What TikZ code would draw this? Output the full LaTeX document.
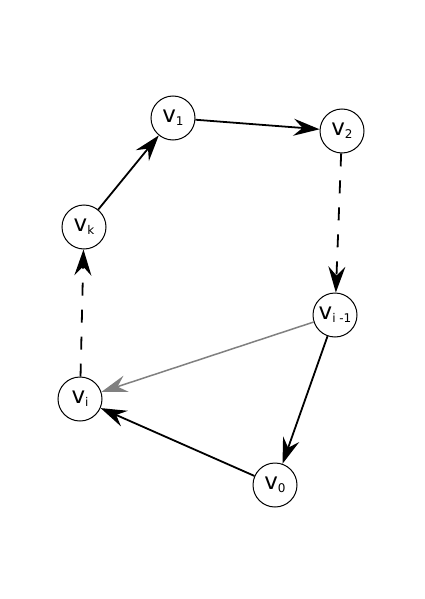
\documentclass[tikz,border=0pt]{standalone}
\usepackage{fontspec}
\setmainfont{DejaVu Sans}
\usetikzlibrary{arrows.meta}
\newcommand{\vlab}[1]{{\fontsize{23}{23}\selectfont v}\raisebox{-3pt}{\fontsize{12}{12}\selectfont #1}}
\begin{document}
\begin{tikzpicture}[x=1pt,y=-1pt,
  vert/.style={circle,draw,line width=1pt,minimum size=44pt,inner sep=0pt},
  tip/.style={-{Stealth[length=26pt,width=17pt,inset=9pt]}},
  arr/.style={line width=1.8pt,tip},
  darr/.style={arr,dash pattern=on 13pt off 14pt},
  garr/.style={line width=1.5pt,draw=gray,fill=gray,tip}]
\path[use as bounding box,fill=white] (0,0) rectangle (424,599);
\node[vert] (v1) at (173,118) {\vlab{1}};
\node[vert] (v2) at (342,131) {\vlab{2}};
\node[vert] (vk) at (84,227) {\vlab{k}};
\node[vert] (vim) at (335,315) {\vlab{i -1}};
\node[vert] (vi) at (80,399) {\vlab{i}};
\node[vert] (v0) at (275,485) {\vlab{0}};
\draw[arr] (vk) -- (v1);
\draw[arr] (v1) -- (v2);
\draw[darr] (v2) -- (vim);
\draw[arr] (vim) -- (v0);
\draw[arr] (v0) -- (vi);
\draw[garr] (vim) -- (vi);
\draw[darr] (vi) -- (vk);
\end{tikzpicture}
\end{document}
